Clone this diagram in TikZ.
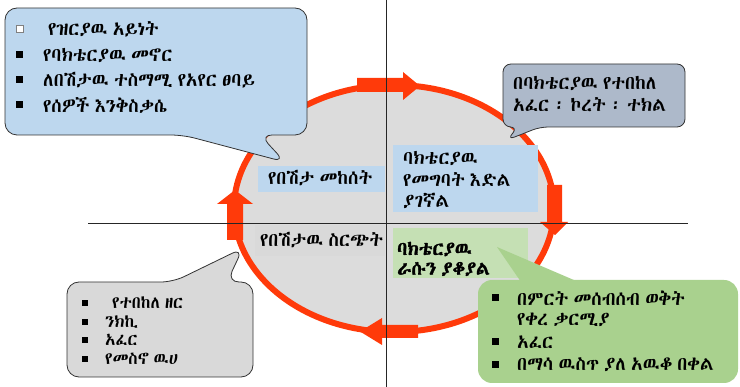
\documentclass[tikz,border=0pt]{standalone}
\usepackage{fontspec}
\IfFontExistsTF{Abyssinica SIL}{\def\ethname{Abyssinica SIL}}{%
 \IfFontExistsTF{FreeSerif}{\def\ethname{FreeSerif}}{%
  \IfFontExistsTF{FreeSans}{\def\ethname{FreeSans}}{\def\ethname{DejaVu Sans}}}}
\newfontfamily\ethfont[WordSpace=0.6]{\ethname}
\newfontfamily\ethbold[WordSpace=0.6,FakeBold=1.6]{\ethname}
\definecolor{cred}{RGB}{255,58,10}
\definecolor{cgrey}{RGB}{220,220,220}
\definecolor{cblue}{RGB}{189,215,238}
\definecolor{cslate}{RGB}{173,185,202}
\definecolor{cgreen}{RGB}{169,209,142}
\definecolor{clgreen}{RGB}{197,224,180}
\definecolor{cbox}{RGB}{217,217,217}
\begin{document}
\begin{tikzpicture}[x=1pt,y=-1pt,
  txt/.style={anchor=west,inner sep=0pt,font=\ethfont\fontsize{19}{22}\selectfont},
  txts/.style={anchor=west,inner sep=0pt,font=\ethfont\fontsize{17}{20}\selectfont},
  txtb/.style={anchor=west,inner sep=0pt,font=\ethbold\fontsize{19}{22}\selectfont},
  bul/.style={fill=black},
  blockarrow/.style={fill=cred,draw=none},
  callout/.style={draw=black!80,line width=0.8pt,rounded corners=#1},
  axis/.style={draw=black!85,line width=0.9pt}]
\useasboundingbox (0,0) rectangle (740,387);
% cycle
\draw[fill=cgrey,draw=cred,line width=6pt] (394,208.5) ellipse [x radius=160, y radius=123.5];
% block arrows
\fill[blockarrow] (357,78) -- (403,78) -- (403,72) -- (420,86) -- (403,100) -- (403,92) -- (357,92) -- cycle;
\fill[blockarrow] (547,185) -- (562,185) -- (562,222) -- (568,222) -- (555,235) -- (540,222) -- (547,222) -- cycle;
\fill[blockarrow] (418,325) -- (382,325) -- (382,318) -- (360,331.5) -- (382,345) -- (382,338) -- (418,338) -- cycle;
\fill[blockarrow] (227,240) -- (243,240) -- (243,204) -- (253,204) -- (235,190) -- (217,204) -- (227,204) -- cycle;
% axes
\coordinate (vt) at (386,0); \coordinate (vb) at (386,387);
\coordinate (hl) at (88,223); \coordinate (hr) at (688,223);
\draw[axis] (vt) -- (vb);
\draw[axis] (hl) -- (hr);
% centre boxes
\fill[cblue] (258,166) rectangle (385,192);
\node[txt] (occ) at (268,178) {የበሽታ መከሰት};
\fill[cblue] (393,145) rectangle (538,212);
\node[txt] (e1) at (403,158) {ባክቴርያዉ};
\node[txt] (e2) at (403,180) {የመግባት እድል};
\node[txt] (e3) at (403,201) {ያገኛል};
\fill[cbox] (255,225) rectangle (385,256);
\node[txt] (spr) at (260,240) {የበሽታዉ ስርጭት};
\fill[clgreen] (393,228) rectangle (528,278);
\node[txtb] (s1) at (397,249) {ባክቴርያዉ};
\node[txtb] (s2) at (397,269) {ራሱን ያቆያል};
% callout 1 (top left)
\draw[callout=12pt,fill=cblue] (5,8) -- (307,8) -- (307,135) -- (260,135) -- (285,162) -- (183,135) -- (5,135) -- cycle;
\draw[fill=white,draw=black!50] (16,25) rectangle (23,32);
\node[txt] (a1) at (48,29) {የዝርያዉ አይነት};
\fill[bul] (16,51) rectangle (23,58); \node[txt] (a2) at (43,55) {የባክቴርያዉ መኖር};
\fill[bul] (16,76) rectangle (23,83); \node[txt] (a3) at (43,80) {ለበሽታዉ ተስማሚ የአየር ፀባይ};
\fill[bul] (16,101) rectangle (23,108); \node[txt] (a4) at (43,105) {የሰዎች እንቅስቃሴ};
% callout 2 (top right)
\draw[callout=8pt,fill=cslate] (503,64) -- (685,64) -- (685,127) -- (540,127) -- (507,140) -- (518,127) -- (503,127) -- cycle;
\node[txt] (b1) at (513,83) {በባክቴርያዉ የተበከለ};
\node[txt] (b2) at (513,105) {አፈር ፡ ኮረት ፡ ተክል};
% callout 3 (bottom right)
\fill[cgreen,rounded corners=14pt] (478,280) -- (738,280) -- (738,383) -- (478,383) -- (478,280) -- (520,280) -- cycle;
\fill[cgreen] (520,280.5) -- (497,247) -- (575,280.5) -- cycle;
\fill[bul] (492,294) rectangle (499,301); \node[txt] (c1) at (517,298) {በምርት መሰብሰብ ወቅት};
\node[txt] (c1b) at (517,320) {የቀረ ቃርሚያ};
\fill[bul] (492,338) rectangle (499,345); \node[txt] (c2) at (517,342) {አፈር};
\fill[bul] (492,361) rectangle (499,368); \node[txt] (c3) at (517,365) {በማሳ ዉስጥ ያለ አዉቆ በቀል};
% callout 4 (bottom left)
\draw[callout=12pt,fill=cbox] (67,282) -- (173,282) -- (243,248) -- (227,282) -- (253,282) -- (253,377) -- (67,377) -- cycle;
\fill[bul] (82,300) rectangle (88,306); \node[txts] (d1) at (112,303) {የተበከለ ዘር};
\fill[bul] (82,319) rectangle (88,325); \node[txts] (d2) at (105,322) {ንክኪ};
\fill[bul] (82,337) rectangle (88,343); \node[txts] (d3) at (105,340) {አፈር};
\fill[bul] (82,356) rectangle (88,362); \node[txts] (d4) at (105,359) {የመስኖ ዉሀ};
\end{tikzpicture}
\end{document}
